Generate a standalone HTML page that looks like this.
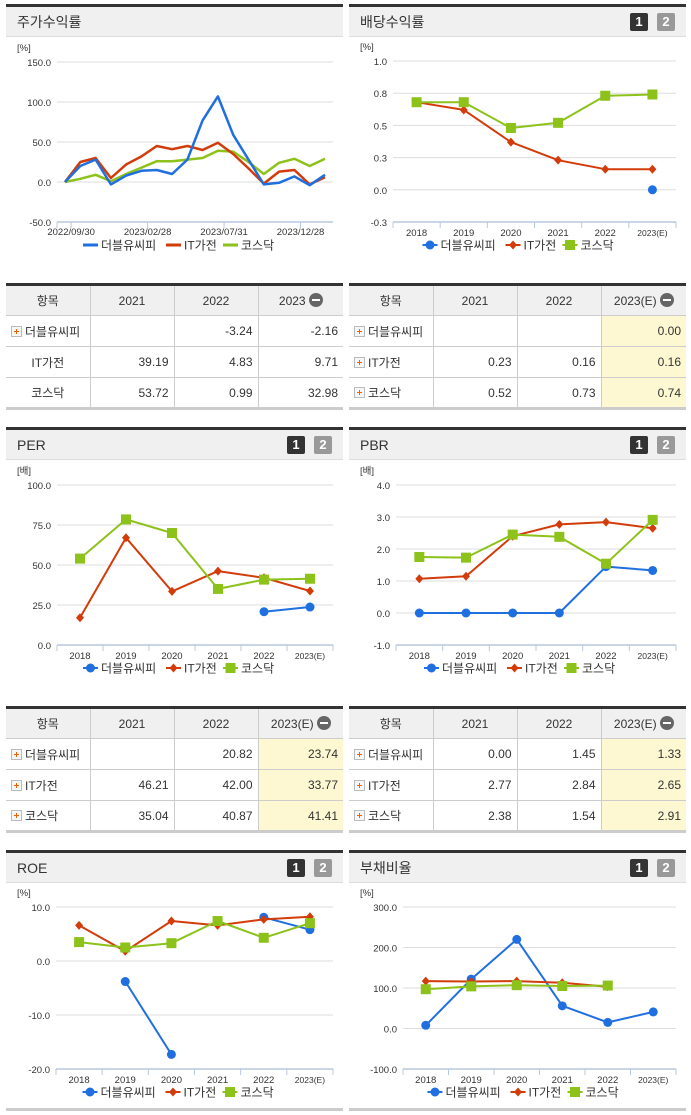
<!DOCTYPE html>
<html><head><meta charset="utf-8">
<style>
*{box-sizing:border-box;margin:0;padding:0}
body{width:691px;height:1115px;background:#fff;position:relative;overflow:hidden;font-family:"Liberation Sans","Noto Sans CJK KR",sans-serif;color:#333}
.panel{position:absolute;border-top:3px solid #333}
.tbar{position:absolute;left:0;right:0;top:0;height:30px;background:#f0f0f0;border-bottom:1px solid #ddd;font-size:14px;line-height:30px;padding-left:11px;color:#333}
.btn{position:absolute;top:6px;width:18px;height:18px;font-size:13px;font-weight:bold;color:#fff;text-align:center;line-height:18px;border-radius:2px}
.b1{background:#333;right:38px}.b2{background:#999;right:11px}
table{position:absolute;border-collapse:collapse;border-top:3px solid #333;border-bottom:3px solid #ccc;font-size:12px;table-layout:fixed}
td,th{border:1px solid #ccc;height:31px;font-weight:normal}
th{background:#f0f0f0;text-align:center}
td{text-align:right;padding-right:5px}
td.n{text-align:left;padding-left:5px}
td.c{text-align:center;padding:0}
td.y,th.y{background:#fdf8d2}
th.y{background:#f0f0f0}
tr td:first-child,tr th:first-child{border-left:none}
tr td:last-child,tr th:last-child{border-right:none}
.plus{display:inline-block;width:11px;height:11px;border:1px solid #bbb;background:#f6f6f6;position:relative;vertical-align:-1px;margin-right:3px}
.plus:before{content:"";position:absolute;left:2px;top:4px;width:5px;height:1px;background:#f06000}
.plus:after{content:"";position:absolute;left:4px;top:2px;width:1px;height:5px;background:#f06000}
.minus{display:inline-block;width:14px;height:14px;border-radius:7px;background:#666;position:relative;vertical-align:-2px;margin-left:3px}
.minus:before{content:"";position:absolute;left:3px;top:6px;width:8px;height:2px;background:#fff}
svg text{font-family:"Liberation Sans","Noto Sans CJK KR",sans-serif}
</style></head><body>

<div class="panel" style="left:6px;top:4px;width:337px;height:256px"><div class="tbar">주가수익률</div></div>
<div class="panel" style="left:349px;top:4px;width:337px;height:256px"><div class="tbar">배당수익률<span class="btn b1">1</span><span class="btn b2">2</span></div></div>

<table style="left:6px;top:283px;width:337px">
<colgroup><col style="width:84px"><col style="width:84px"><col style="width:84px"><col style="width:85px"></colgroup>
<tr><th>항목</th><th>2021</th><th>2022</th><th>2023<span class="minus"></span></th></tr>
<tr><td class="n"><span class="plus"></span>더블유씨피</td><td></td><td>-3.24</td><td>-2.16</td></tr>
<tr><td class="c">IT가전</td><td>39.19</td><td>4.83</td><td>9.71</td></tr>
<tr><td class="c">코스닥</td><td>53.72</td><td>0.99</td><td>32.98</td></tr>
</table>
<table style="left:349px;top:283px;width:337px">
<colgroup><col style="width:84px"><col style="width:84px"><col style="width:84px"><col style="width:85px"></colgroup>
<tr><th>항목</th><th>2021</th><th>2022</th><th class="y">2023(E)<span class="minus"></span></th></tr>
<tr><td class="n"><span class="plus"></span>더블유씨피</td><td></td><td></td><td class="y">0.00</td></tr>
<tr><td class="n"><span class="plus"></span>IT가전</td><td>0.23</td><td>0.16</td><td class="y">0.16</td></tr>
<tr><td class="n"><span class="plus"></span>코스닥</td><td>0.52</td><td>0.73</td><td class="y">0.74</td></tr>
</table>

<div class="panel" style="left:6px;top:427px;width:337px;height:256px"><div class="tbar">PER<span class="btn b1">1</span><span class="btn b2">2</span></div></div>
<div class="panel" style="left:349px;top:427px;width:337px;height:256px"><div class="tbar">PBR<span class="btn b1">1</span><span class="btn b2">2</span></div></div>

<table style="left:6px;top:706px;width:337px">
<colgroup><col style="width:84px"><col style="width:84px"><col style="width:84px"><col style="width:85px"></colgroup>
<tr><th>항목</th><th>2021</th><th>2022</th><th class="y">2023(E)<span class="minus"></span></th></tr>
<tr><td class="n"><span class="plus"></span>더블유씨피</td><td></td><td>20.82</td><td class="y">23.74</td></tr>
<tr><td class="n"><span class="plus"></span>IT가전</td><td>46.21</td><td>42.00</td><td class="y">33.77</td></tr>
<tr><td class="n"><span class="plus"></span>코스닥</td><td>35.04</td><td>40.87</td><td class="y">41.41</td></tr>
</table>
<table style="left:349px;top:706px;width:337px">
<colgroup><col style="width:84px"><col style="width:84px"><col style="width:84px"><col style="width:85px"></colgroup>
<tr><th>항목</th><th>2021</th><th>2022</th><th class="y">2023(E)<span class="minus"></span></th></tr>
<tr><td class="n"><span class="plus"></span>더블유씨피</td><td>0.00</td><td>1.45</td><td class="y">1.33</td></tr>
<tr><td class="n"><span class="plus"></span>IT가전</td><td>2.77</td><td>2.84</td><td class="y">2.65</td></tr>
<tr><td class="n"><span class="plus"></span>코스닥</td><td>2.38</td><td>1.54</td><td class="y">2.91</td></tr>
</table>

<div class="panel" style="left:6px;top:850px;width:337px;height:261px;border-bottom:3px solid #ccc"><div class="tbar">ROE<span class="btn b1">1</span><span class="btn b2">2</span></div></div>
<div class="panel" style="left:349px;top:850px;width:337px;height:261px;border-bottom:3px solid #ccc"><div class="tbar">부채비율<span class="btn b1">1</span><span class="btn b2">2</span></div></div>

<svg id="charts" width="691" height="1115" style="position:absolute;left:0;top:0"></svg>

<script>
const SERIES_NAMES = ['더블유씨피','IT가전','코스닥'];
const YEARS = ['2018','2019','2020','2021','2022','2023(E)'];
// stock return
const RET_TICK_LABELS = ['2022/09/30','2023/02/28','2023/07/31','2023/12/28'];
const RET_TICK_IDX = [0.4,5.4,10.4,15.4];
const RET_BLUE = [0,20,28,-3,8,14,15,10,28,77,107,59,28,-3,-1,7,-4,9];
const RET_RED = [0,25,30,5,22,32,45,41,45,40,49,35,17,-2,13,15,-3,6];
const RET_GREEN = [0,4,9,1,10,18,26,26,28,30,39,38,25,10,24,29,20,29];
const RET_TICKS = [150,100,50,0,-50];
// dividend
const DIV_BLUE = [null,null,null,null,null,0.00];
const DIV_RED = [0.68,0.62,0.37,0.23,0.16,0.16];
const DIV_GREEN = [0.68,0.68,0.48,0.52,0.73,0.74];
const DIV_TICKS = [1.0,0.75,0.5,0.25,0,-0.25];
// PER
const PER_BLUE = [null,null,null,null,20.82,23.74];
const PER_RED = [17,67,33.5,46.21,42.0,33.77];
const PER_GREEN = [54,78.5,70,35.04,40.87,41.41];
const PER_TICKS = [100,75,50,25,0];
// PBR
const PBR_BLUE = [0,0,0,0.00,1.45,1.33];
const PBR_RED = [1.07,1.15,2.4,2.77,2.84,2.65];
const PBR_GREEN = [1.75,1.73,2.45,2.38,1.54,2.91];
const PBR_TICKS = [4,3,2,1,0,-1];
// ROE
const ROE_BLUE = [null,-3.8,-17.3,null,8.1,5.8];
const ROE_RED = [6.6,1.8,7.4,6.6,7.7,8.2];
const ROE_GREEN = [3.5,2.5,3.3,7.4,4.3,7.0];
const ROE_TICKS = [10,0,-10,-20];
// debt ratio
const DEBT_BLUE = [8,122,220,56,15,41];
const DEBT_RED = [117,116,117,113,103,null];
const DEBT_GREEN = [97,104,107,105,106,null];
const DEBT_TICKS = [300,200,100,0,-100];

const COLORS = ['#1f6fe0','#d23c0a','#8cc21a'];
const svg = document.getElementById('charts');
const NS = 'http://www.w3.org/2000/svg';
function mk(tag, attrs, parent){const e=document.createElementNS(NS,tag);for(const k in attrs)e.setAttribute(k,attrs[k]);(parent||svg).appendChild(e);return e;}

function marker(g, kind, x, y, color){
  let m;
  if(kind==='circle') m=mk('circle',{cx:x,cy:y,r:4.5,fill:color},g);
  else if(kind==='diamond') m=mk('path',{d:`M${x} ${y-4.5}L${x+4} ${y}L${x} ${y+4.5}L${x-4} ${y}Z`,fill:color},g);
  else m=mk('rect',{x:x-5,y:y-5,width:10,height:10,fill:color},g);
  return m;
}

function chart(c){
  const g = mk('g',{});
  
  
  const min=c.ticks[c.ticks.length-1], max=c.ticks[0];
  const yS=v=>c.yb-(v-min)/(max-min)*(c.yb-c.yt);
  let xS;
  if(c.mode==='points'){const n=c.series[0].length;xS=i=>c.px0+i*(c.px1-c.px0)/(n-1);}
  else {const bw=(c.x1-c.x0)/c.cats.length;xS=i=>c.x0+bw*(i+0.5);}
  const u=mk('text',{x:c.ux,y:c.yt-11,'font-size':9.5,fill:'#333'},g);u.textContent=c.unit;
  
  
  c.ticks.forEach((t,k)=>{
    const y=yS(t);
    if(k<c.ticks.length-1) mk('line',{x1:c.x0,x2:c.x1,y1:y,y2:y,stroke:'#ddd','stroke-width':1},g);
    const tx=mk('text',{x:c.x0-6,y:y+4,'font-size':9.5,'text-anchor':'end',fill:'#333'},g);
    tx.textContent=t.toFixed(1);
    
    
  });
  mk('line',{x1:c.x0,x2:c.x1,y1:c.yb,y2:c.yb,stroke:'#b8c8de','stroke-width':1.5},g);
  if(c.mode==='points'){
    mk('line',{x1:c.x0,x2:c.x0,y1:c.yb,y2:c.yb+6,stroke:'#b8c8de'},g);
    c.tickIdx.forEach((ti,k)=>{
      const x=xS(ti);
      mk('line',{x1:x,x2:x,y1:c.yb,y2:c.yb+6,stroke:'#b8c8de'},g);
      const tx=mk('text',{x:x,y:c.yb+13,'font-size':9.5,'text-anchor':'middle',fill:'#333'},g);
      tx.textContent=c.tickLabels[k];
      
      
    });
  } else {
    const bw=(c.x1-c.x0)/c.cats.length;
    for(let i=0;i<=c.cats.length;i++){const x=c.x0+bw*i;mk('line',{x1:x,x2:x,y1:c.yb,y2:c.yb+6,stroke:'#b8c8de'},g);}
    c.cats.forEach((cat,i)=>{
      const tx=mk('text',{x:xS(i),y:c.yb+14,'font-size':i===5?8.5:9.5,'text-anchor':'middle',fill:'#333'},g);
      tx.textContent=cat;
      
      
    });
  }
  const kinds=['circle','diamond','square'];
  const order=c.mode==='points'?[2,1,0]:[0,1,2];
  order.forEach(s=>{
    const vals=c.series[s];
    let d='',pen=false;
    vals.forEach((v,i)=>{
      if(v===null){pen=false;return;}
      d+=(pen?'L':'M')+xS(i).toFixed(1)+' '+yS(v).toFixed(1);pen=true;
    });
    const p=mk('path',{d:d,fill:'none',stroke:COLORS[s],'stroke-width':c.mode==='points'?2.5:2,'stroke-linejoin':'round'},g);
    
    
    if(c.mode!=='points'){
      vals.forEach((v,i)=>{
        if(v===null)return;
        const m=marker(g,kinds[s],xS(i),yS(v),COLORS[s]);
        
        
      });
    }
  });
  const cx=(c.x0+c.x1)/2;
  const ly=c.yb+23;
  const starts=[cx-112,cx-29,cx+28];
  SERIES_NAMES.forEach((nm,s)=>{
    const sx=starts[s];
    if(c.mode==='points') mk('line',{x1:sx,x2:sx+15,y1:ly,y2:ly,stroke:COLORS[s],'stroke-width':3},g);
    else {mk('line',{x1:sx,x2:sx+15,y1:ly,y2:ly,stroke:COLORS[s],'stroke-width':2},g);marker(g,kinds[s],sx+7.5,ly,COLORS[s]);}
    const t=mk('text',{x:sx+18,y:ly+4.5,'font-size':12,fill:'#333'},g);
    t.textContent=nm;
    
    
  });
}

chart({name:'stock-return-chart',mode:'points',x0:57,x1:333,ux:17,yt:62,yb:222,px0:65,px1:325,ticks:RET_TICKS,unit:'[%]',
  tickIdx:RET_TICK_IDX,tickLabels:RET_TICK_LABELS,series:[RET_BLUE,RET_RED,RET_GREEN]});
chart({name:'dividend-yield-chart',mode:'bands',x0:393,x1:676,ux:360,yt:61,yb:222,ticks:DIV_TICKS,unit:'[%]',cats:YEARS,series:[DIV_BLUE,DIV_RED,DIV_GREEN]});
chart({name:'per-chart',mode:'bands',x0:57,x1:333,ux:17,yt:485,yb:645,ticks:PER_TICKS,unit:'[배]',cats:YEARS,series:[PER_BLUE,PER_RED,PER_GREEN]});
chart({name:'pbr-chart',mode:'bands',x0:396,x1:676,ux:360,yt:485,yb:645,ticks:PBR_TICKS,unit:'[배]',cats:YEARS,series:[PBR_BLUE,PBR_RED,PBR_GREEN]});
chart({name:'roe-chart',mode:'bands',x0:56,x1:333,ux:17,yt:907,yb:1069,ticks:ROE_TICKS,unit:'[%]',cats:YEARS,series:[ROE_BLUE,ROE_RED,ROE_GREEN]});
chart({name:'debt-ratio-chart',mode:'bands',x0:403,x1:676,ux:360,yt:907,yb:1069,ticks:DEBT_TICKS,unit:'[%]',cats:YEARS,series:[DEBT_BLUE,DEBT_RED,DEBT_GREEN]});
</script>
</body></html>
